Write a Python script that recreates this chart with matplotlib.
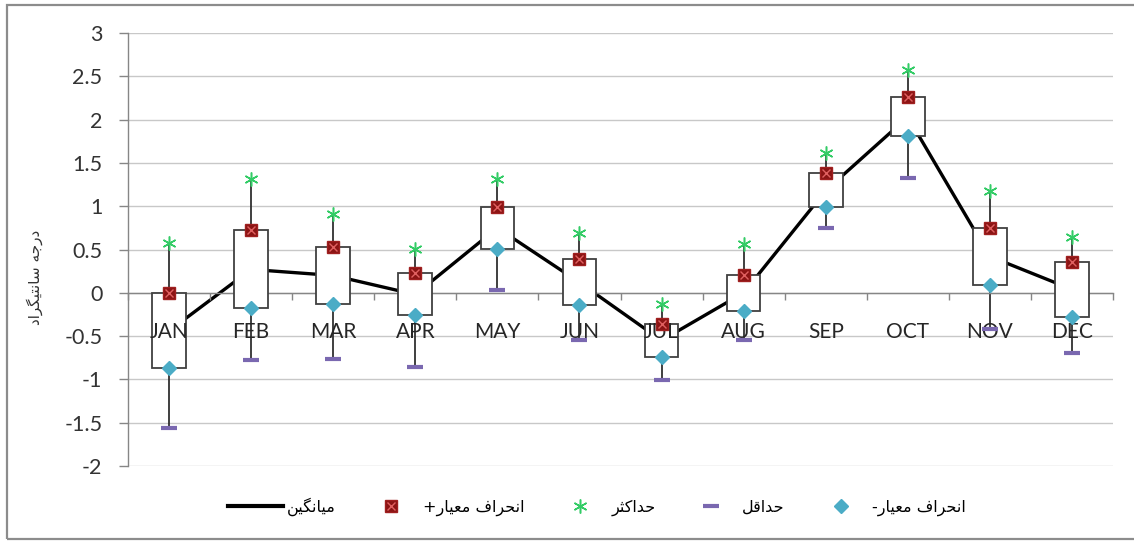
import matplotlib
matplotlib.use("Agg")
import matplotlib.pyplot as plt
from matplotlib.lines import Line2D
from matplotlib.legend_handler import HandlerTuple
from matplotlib.patches import Rectangle

# ---------------- data ----------------
months = ["JAN", "FEB", "MAR", "APR", "MAY", "JUN", "JUL", "AUG", "SEP", "OCT", "NOV", "DEC"]
max_vals = [0.58, 1.31, 0.91, 0.51, 1.31, 0.69, -0.13, 0.56, 1.61, 2.57, 1.17, 0.65]
min_vals = [-1.56, -0.78, -0.76, -0.86, 0.03, -0.55, -1.01, -0.55, 0.75, 1.33, -0.42, -0.69]
plus_sd = [0.00, 0.73, 0.53, 0.23, 0.99, 0.39, -0.36, 0.20, 1.38, 2.26, 0.75, 0.36]
minus_sd = [-0.87, -0.18, -0.13, -0.26, 0.51, -0.14, -0.74, -0.21, 0.99, 1.81, 0.09, -0.28]
mean_vals = [-0.44, 0.27, 0.20, -0.02, 0.75, 0.12, -0.55, 0.00, 1.18, 2.03, 0.42, 0.04]
y_ticks = [-2, -1.5, -1, -0.5, 0, 0.5, 1, 1.5, 2, 2.5, 3]

ylabel_text = "درجه سانتیگراد"
lbl_mean = "میانگین"
lbl_plus = "انحراف معیار+"
lbl_max = "حداکثر"
lbl_min = "حداقل"
lbl_minus = "انحراف معیار-"

# ---------- minimal Arabic/Persian shaping (matplotlib has no shaping) ----------
_FORMS = {
    # char: (isolated, final, initial, medial)
    "\u0627": ("\uFE8D", "\uFE8E", None, None),   # alef
    "\u062F": ("\uFEA9", "\uFEAA", None, None),   # dal
    "\u0631": ("\uFEAD", "\uFEAE", None, None),   # reh
    "\u062A": ("\uFE95", "\uFE96", "\uFE97", "\uFE98"),  # teh
    "\u062B": ("\uFE99", "\uFE9A", "\uFE9B", "\uFE9C"),  # theh
    "\u062C": ("\uFE9D", "\uFE9E", "\uFE9F", "\uFEA0"),  # jeem
    "\u062D": ("\uFEA1", "\uFEA2", "\uFEA3", "\uFEA4"),  # hah
    "\u0633": ("\uFEB1", "\uFEB2", "\uFEB3", "\uFEB4"),  # seen
    "\u0639": ("\uFEC9", "\uFECA", "\uFECB", "\uFECC"),  # ain
    "\u0641": ("\uFED1", "\uFED2", "\uFED3", "\uFED4"),  # feh
    "\u0642": ("\uFED5", "\uFED6", "\uFED7", "\uFED8"),  # qaf
    "\u0644": ("\uFEDD", "\uFEDE", "\uFEDF", "\uFEE0"),  # lam
    "\u0645": ("\uFEE1", "\uFEE2", "\uFEE3", "\uFEE4"),  # meem
    "\u0646": ("\uFEE5", "\uFEE6", "\uFEE7", "\uFEE8"),  # noon
    "\u0647": ("\uFEE9", "\uFEEA", "\uFEEB", "\uFEEC"),  # heh
    "\u06A9": ("\uFB8E", "\uFB8F", "\uFB90", "\uFB91"),  # keheh
    "\u06AF": ("\uFB92", "\uFB93", "\uFB94", "\uFB95"),  # gaf
    "\u06CC": ("\uFBFC", "\uFBFD", "\uFBFE", "\uFBFF"),  # farsi yeh
}


def shape(s):
    out = []
    for i, ch in enumerate(s):
        if ch not in _FORMS:
            out.append(ch)
            continue
        prev = s[i - 1] if i > 0 else None
        nxt = s[i + 1] if i + 1 < len(s) else None
        jp = prev in _FORMS and _FORMS[prev][2] is not None
        jn = _FORMS[ch][2] is not None and nxt in _FORMS
        iso, fin, ini, med = _FORMS[ch]
        if jp and jn:
            out.append(med)
        elif jp:
            out.append(fin)
        elif jn:
            out.append(ini)
        else:
            out.append(iso)
    return "".join(reversed(out))


# ---------------- figure ----------------
W, H = 1134, 541
fig = plt.figure(figsize=(W / 100, H / 100), dpi=100)
fig.patch.set_facecolor("white")

# outer chart border
fig.add_artist(Rectangle((7 / W, 1 - 539 / H), 1.2, (539 - 5) / H, transform=fig.transFigure,
                         fill=False, edgecolor="#8c8c8c", linewidth=1.6))

ax = fig.add_axes([128 / W, 1 - 466 / H, (1113 - 128) / W, (466 - 33) / H])
ax.set_facecolor("white")

x = list(range(len(months)))

# whiskers (min to max)
ax.vlines(x, min_vals, max_vals, colors="#303030", linewidth=1.3, zorder=1)
# mean line
ax.plot(x, mean_vals, color="black", linewidth=2.4, zorder=2, solid_capstyle="butt")
# boxes between -SD and +SD
heights = [p - m for p, m in zip(plus_sd, minus_sd)]
ax.bar(x, heights, bottom=minus_sd, width=0.41, color="white", edgecolor="#404040",
       linewidth=1.3, zorder=3)

# markers
star = dict(linestyle="none", marker=(6, 2, 0), markersize=10, markeredgewidth=1.1, color="#33cc66")
dash = dict(linestyle="none", marker="_", markersize=11, markeredgewidth=3, color="#7a68b0")
sq = dict(linestyle="none", marker="s", markersize=9, markerfacecolor="#8b1414",
          markeredgecolor="#a02020")
sqx = dict(linestyle="none", marker="x", markersize=6, markeredgewidth=1, color="#e06060")
dia = dict(linestyle="none", marker="D", markersize=7.5, markerfacecolor="#4bacc6",
           markeredgecolor="#4bacc6")

ax.plot(x, max_vals, zorder=5, **star)
ax.plot(x, min_vals, zorder=5, **dash)
ax.plot(x, plus_sd, zorder=5, **sq)
ax.plot(x, plus_sd, zorder=6, **sqx)
ax.plot(x, minus_sd, zorder=5, **dia)

# axes styling
ax.set_xlim(-0.5, len(months) - 0.5)
ax.set_ylim(-2, 3)
ax.set_yticks(y_ticks)
ax.set_yticklabels([f"{t:g}" for t in y_ticks])
ax.yaxis.grid(True, color="#c8c8c8", linewidth=1.0, zorder=0)
ax.set_axisbelow(True)

for s in ["top", "right"]:
    ax.spines[s].set_visible(False)
ax.spines["left"].set_color("#868686")
ax.spines["left"].set_linewidth(1.0)
ax.spines["bottom"].set_position(("data", 0))
ax.spines["bottom"].set_color("#868686")
ax.spines["bottom"].set_linewidth(1.0)

ax.set_xticks(x)
ax.set_xticklabels(months)
ax.set_xticks([i - 0.5 for i in range(len(months) + 1)], minor=True)
ax.tick_params(axis="x", which="major", length=0, pad=21, labelsize=15, labelcolor="#262626")
ax.tick_params(axis="x", which="minor", length=5, width=1, color="#868686", direction="out")
ax.tick_params(axis="y", which="major", length=6.5, width=1, color="#868686", pad=12,
               labelsize=15.5, labelcolor="#333333")
for lab in ax.get_xticklabels() + ax.get_yticklabels():
    lab.set_fontfamily(["Lato", "DejaVu Sans"])
ax.xaxis.set_zorder(4)

# y label
fig.text(35 / W, 1 - 277 / H, shape(ylabel_text), rotation=90, ha="center", va="center",
         fontsize=11, family=["DejaVu Sans"], color="#333333")

# legend
h_mean = Line2D([], [], color="black", linewidth=3)
h_plus = (Line2D([], [], **sq), Line2D([], [], **sqx))
h_max = Line2D([], [], **star)
h_min = Line2D([], [], **dash)
h_minus = Line2D([], [], **dia)
leg = fig.legend([h_mean, h_plus, h_max, h_min, h_minus],
                 [shape(lbl_mean), shape(lbl_plus), shape(lbl_max), shape(lbl_min), shape(lbl_minus)],
                 handler_map={tuple: HandlerTuple(ndivide=1, pad=0)},
                 loc="center", bbox_to_anchor=(597 / W, 1 - 507 / H), ncol=5, frameon=False,
                 prop={"family": "DejaVu Sans", "size": 11.5}, handlelength=3.4,
                 columnspacing=1.8, handletextpad=0.25)

fig.savefig("out.png", dpi=100, facecolor="white")
